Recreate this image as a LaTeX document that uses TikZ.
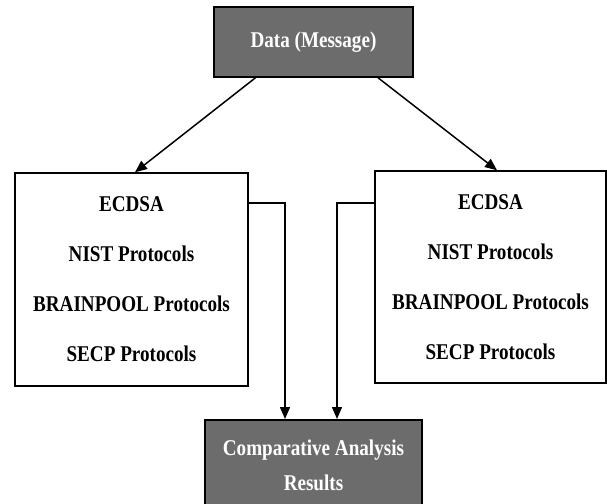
\documentclass[tikz,border=0pt]{standalone}
\usepackage{fontspec}
\setmainfont{Liberation Serif}
\newfontfamily\narrowserif[FakeStretch=0.85]{Liberation Serif}
\usetikzlibrary{arrows.meta}
\definecolor{boxgray}{RGB}{108,108,108}
\begin{document}
\begin{tikzpicture}[x=1pt, y=-1pt,
        darkbox/.style={draw=black, fill=boxgray, line width=1.5pt, text=white,
            font=\narrowserif\fontsize{22.5}{35}\selectfont\bfseries, align=center},
        listbox/.style={draw=black, line width=1.5pt, align=center,
            font=\narrowserif\fontsize{22.5}{50}\selectfont\bfseries},
        arr/.style={line width=1.5pt, -{Triangle[length=12pt, width=10pt]}}]
        \useasboundingbox (0,0) rectangle (607,503);

        \node[darkbox, minimum width=199pt, minimum height=70pt] (data) at (313.5,42) {Data (Message)};

        \node[listbox, minimum width=233pt, minimum height=213pt] (lbox) at (131.5,279.5)
            {ECDSA\\NIST Protocols\\BRAINPOOL Protocols\\SECP Protocols};
        \node[listbox, minimum width=231pt, minimum height=212pt] (rbox) at (490.5,277)
            {ECDSA\\NIST Protocols\\BRAINPOOL Protocols\\SECP Protocols};

        \node[darkbox, minimum width=217pt, minimum height=92pt, anchor=north] (res) at (313.5,419)
            {Comparative Analysis\\Results};

        \draw[arr] ([xshift=-58pt]data.south) -- ([xshift=3.5pt]lbox.north);
        \draw[arr] ([xshift=64.5pt]data.south) -- ([xshift=6.5pt]rbox.north);

        \draw[arr] ([yshift=76.5pt]lbox.east) -| ([xshift=-28.5pt]res.north);
        \draw[arr] ([yshift=74pt]rbox.west) -| ([xshift=23.5pt]res.north);
    \end{tikzpicture}
\end{document}
